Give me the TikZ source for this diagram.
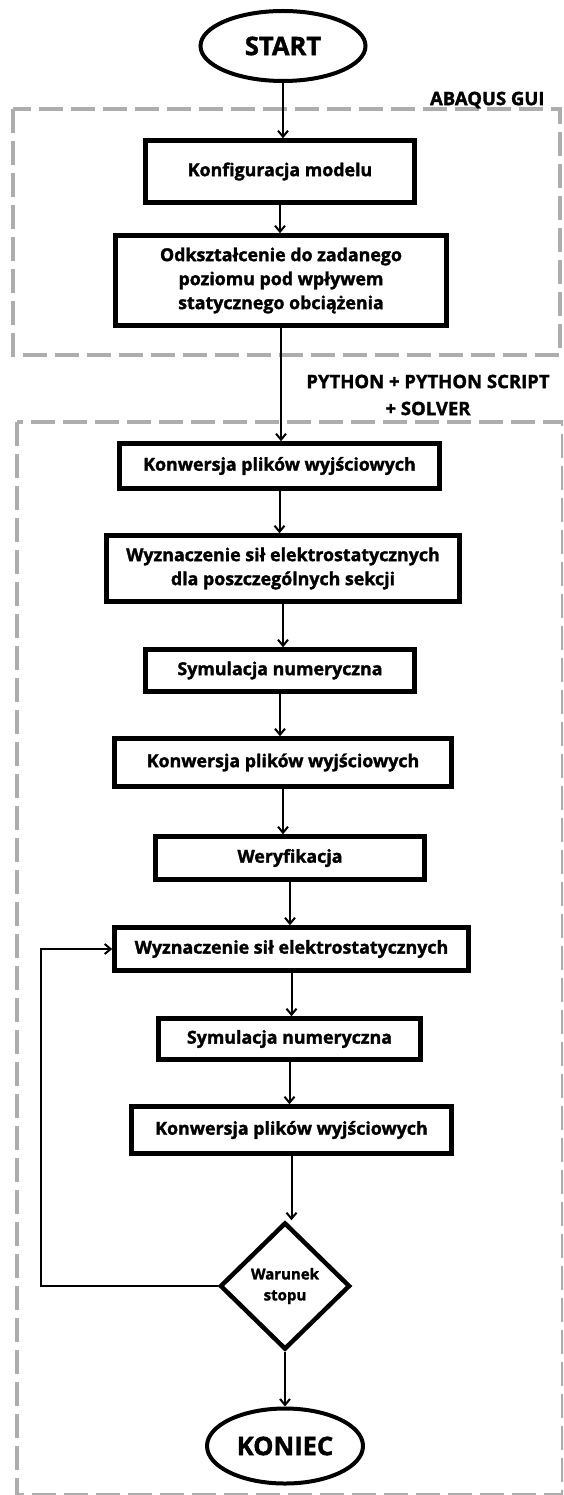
\documentclass[tikz,border=0pt]{standalone}
\usepackage{fontspec}
\setmainfont{Open Sans}[BoldFeatures={FakeBold=1.6}]
\usetikzlibrary{shapes.geometric,arrows.meta}
\tikzset{
  stepbox/.style={draw=black, line width=4.5pt, fill=white, inner sep=0pt, align=center,
    font=\fontsize{17.8}{24}\selectfont\bfseries},
  term/.style={ellipse, draw=black, line width=4pt, fill=white, inner sep=0pt,
    font=\fontsize{25.5}{30}\selectfont\bfseries},
  decision/.style={diamond, draw=black, line width=4.5pt, fill=white, inner sep=0pt, align=center,
    font=\fontsize{15}{21}\selectfont\bfseries},
  group/.style={draw=black!32, line width=4pt, dash pattern=on 24pt off 8pt},
  grouplabel/.style={align=center, font=\fontsize{18.5}{27}\selectfont\bfseries},
  arr/.style={draw=black, line width=2pt, -{Straight Barb[length=6pt,width=10pt,line width=2pt]}},
}
\begin{document}
\begin{tikzpicture}[x=1pt,y=-1pt]
\useasboundingbox (0,0) rectangle (563,1495);
\fill[white] (0,0) rectangle (563,1495);
\begin{scope}
\clip (0,0) rectangle (563,1495);
% group frames
\draw[group] (13,109) rectangle (560,355);
\draw[group] (17,422) rectangle (563,1495);
\end{scope}
\node[grouplabel, anchor=east] (gl1) at (548,100) {ABAQUS GUI};
\node[grouplabel] (gl2) at (428,395) {PYTHON + PYTHON SCRIPT\\+ SOLVER};

\node[term, minimum width=165pt, minimum height=70pt] (start) at (283,46) {START};
\node[stepbox, minimum width=269pt, minimum height=62pt] (b1) at (280,171.5) {Konfiguracja modelu};
\node[stepbox, minimum width=331pt, minimum height=90pt] (b2) at (281,280.5) {Odkształcenie do zadanego\\poziomu pod wpływem\\statycznego obciążenia};
\node[stepbox, minimum width=320pt, minimum height=45pt] (b3) at (279.5,466) {Konwersja plików wyjściowych};
\node[stepbox, minimum width=353pt, minimum height=66pt] (b4) at (283,568.5) {Wyznaczenie sił elektrostatycznych\\dla poszczególnych sekcji};
\node[stepbox, minimum width=269pt, minimum height=42pt] (b5) at (280,670.5) {Symulacja numeryczna};
\node[stepbox, minimum width=337pt, minimum height=48pt] (b6) at (283,762.5) {Konwersja plików wyjściowych};
\node[stepbox, minimum width=269pt, minimum height=43pt] (b7) at (290,858) {Weryfikacja};
\node[stepbox, minimum width=354pt, minimum height=43pt] (b8) at (291.5,949) {Wyznaczenie sił elektrostatycznych};
\node[stepbox, minimum width=262pt, minimum height=41pt] (b9) at (289.5,1039) {Symulacja numeryczna};
\node[stepbox, minimum width=320pt, minimum height=47pt] (b10) at (291.5,1130) {Konwersja plików wyjściowych};
\node[decision, minimum width=130pt, minimum height=127pt] (dec) at (285,1286) {Warunek\\stopu};
\node[term, minimum width=156pt, minimum height=75pt] (end) at (285,1446) {KONIEC};
\coordinate (loop) at (41,1286);

\draw[arr] (start.south) -- (start.south |- b1.north);
\draw[arr] (b1.south) -- (b1.south |- b2.north);
\draw[arr] (b2.south) -- (b2.south |- b3.north);
\draw[arr] (b3.south) -- (b3.south |- b4.north);
\draw[arr] (b4.south) -- (b4.south |- b5.north);
\draw[arr] (b5.south) -- (b5.south |- b6.north);
\draw[arr] (b6.south) -- (b6.south |- b7.north);
\draw[arr] (b7.south) -- (b7.south |- b8.north);
\draw[arr] (b8.south) -- (b8.south |- b9.north);
\draw[arr] (b9.south) -- (b9.south |- b10.north);
\draw[arr] (b10.south) -- (b10.south |- dec.north);
\draw[arr] (dec.south) -- (dec.south |- end.north);
\draw[arr] (dec.west) -- (loop) |- (b8.west);
\end{tikzpicture}
\end{document}
